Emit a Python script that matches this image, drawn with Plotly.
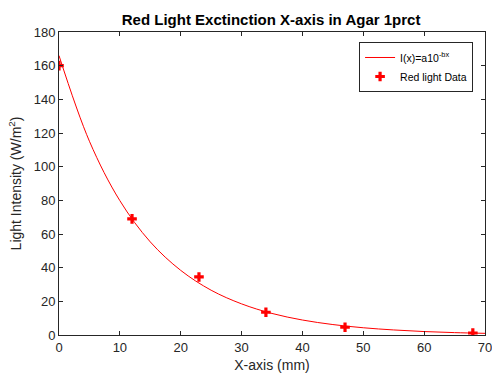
import plotly.graph_objects as go

# Measured data
data_x = [0, 12, 23, 34, 47, 68]
data_y = [160, 69, 34.5, 13.5, 4.6, 1.2]

# Fitted curve I(x)=a10^-bx
fit_x = [0, 5, 10, 15, 20, 25, 30, 35, 40, 45, 50, 55, 60, 65, 70]
fit_y = [166, 115.1, 79.8, 55.3, 38.4, 26.6, 18.5, 12.8, 8.9, 6.2, 4.3, 3.0, 2.05, 1.42, 0.99]

x_ticks = [0, 10, 20, 30, 40, 50, 60, 70]
y_ticks = [0, 20, 40, 60, 80, 100, 120, 140, 160, 180]

axcol = "#262626"
font = "Liberation Sans, Arial, sans-serif"

fig = go.Figure()
fig.add_trace(go.Scatter(
    x=fit_x, y=fit_y, mode="lines", line=dict(color="#ff0000", width=1, shape="spline"),
    name="I(x)=a10<sup>-bx</sup>"))
fig.add_trace(go.Scatter(
    x=data_x, y=data_y, mode="markers",
    marker=dict(symbol="cross", size=8, color="#ff0000"),
    name="Red light Data"))

axis_common = dict(
    showgrid=False, zeroline=False, showline=True, linecolor=axcol, linewidth=1,
    mirror="ticks", ticks="inside", ticklen=4, tickcolor=axcol, automargin=False,
    ticklabeloverflow="allow",
    tickfont=dict(family=font, size=13, color=axcol),
)

fig.update_layout(
    width=492, height=374,
    margin=dict(l=59, r=7, t=32, b=39),
    paper_bgcolor="white", plot_bgcolor="white",
    title=dict(text="<b>Red Light Exctinction X-axis in Agar 1prct</b>",
               x=0.551, xanchor="center", y=0.947, yanchor="middle",
               font=dict(family=font, size=15, color="black")),
    xaxis=dict(range=[0, 70], tickvals=x_ticks,
               title=dict(text="X-axis (mm)", font=dict(family=font, size=14, color=axcol), standoff=6),
               **axis_common),
    yaxis=dict(range=[0, 180], tickvals=y_ticks,
               title=dict(text="Light Intensity (W/m<sup>2</sup>)", font=dict(family=font, size=14, color=axcol), standoff=8),
               **axis_common),
    legend=dict(x=0.972, xanchor="right", y=0.967, yanchor="top",
                bordercolor=axcol, borderwidth=1, bgcolor="white",
                font=dict(family=font, size=10.5, color="black"),
                itemwidth=30, tracegroupgap=0),
    showlegend=True,
)

fig.write_html("out.html")
